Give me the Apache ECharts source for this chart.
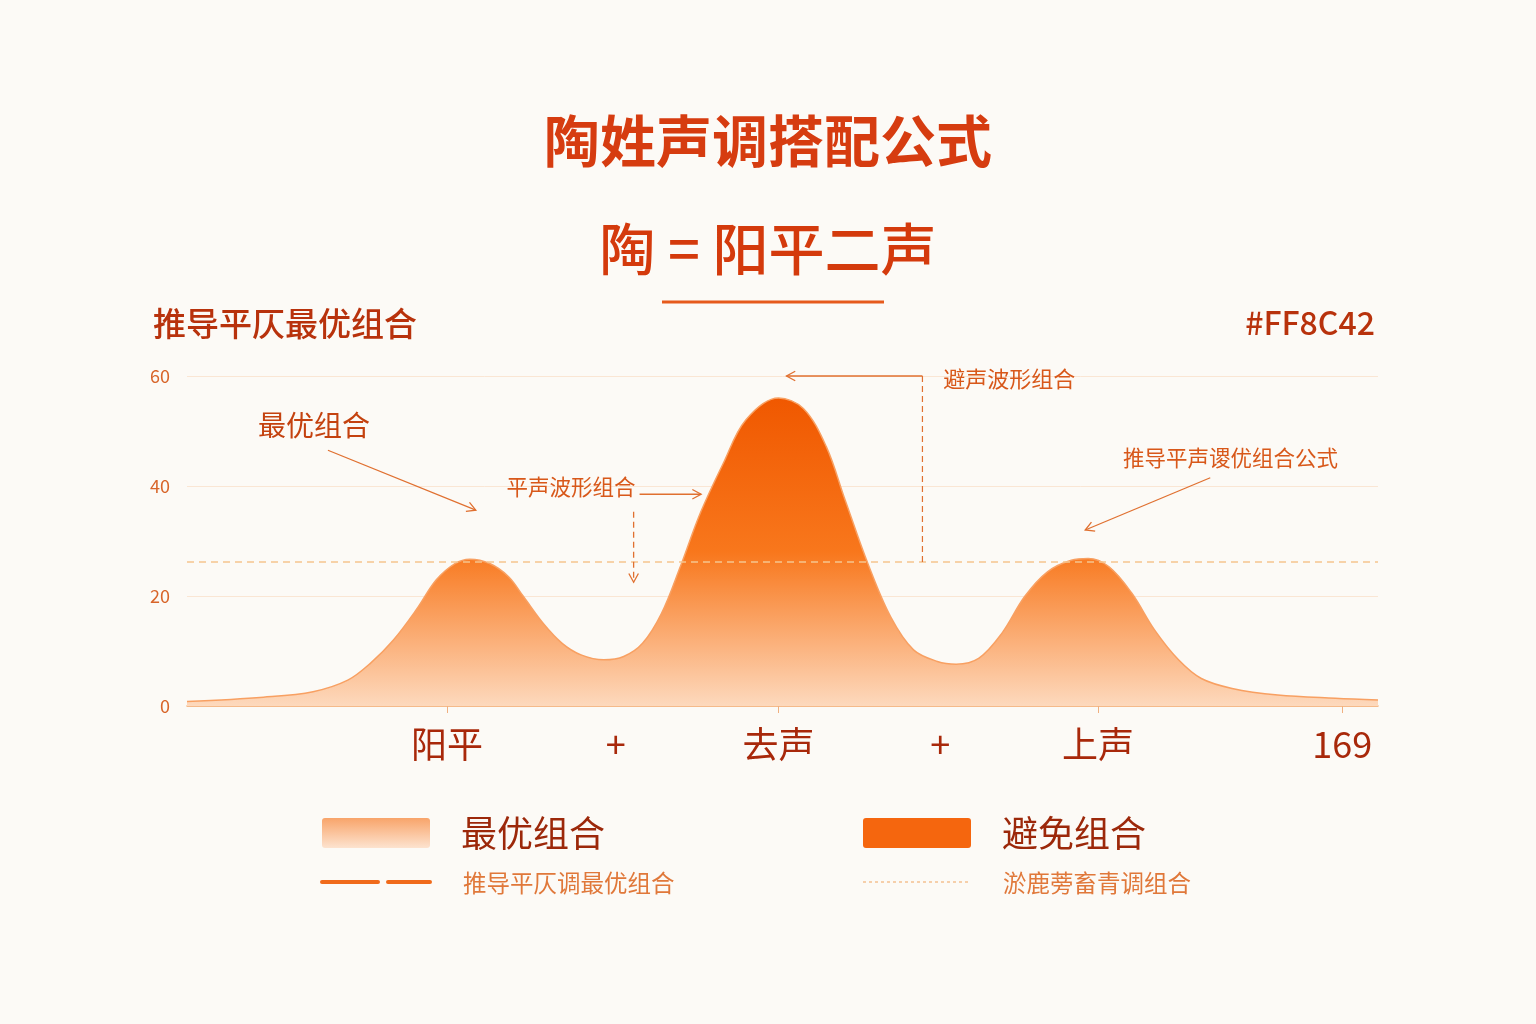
<!DOCTYPE html>
<html>
<head>
<meta charset="utf-8">
<script src="https://cdn.jsdelivr.net/npm/echarts@6/dist/echarts.min.js"></script>
<style>
  html, body { margin: 0; padding: 0; background: #fcfaf6; }
  #chart { width: 1536px; height: 1024px; }
</style>
</head>
<body>
<div id="chart"></div>
<script>
// curve (x in axis units 0..120, y in value units)
var curveX = [0, 7.7, 12.7, 16.2, 18.5, 20.8, 23.1, 25.1, 27, 28.5, 30.5, 32.4, 33.9, 35.9, 37.8, 39.7, 42, 44, 45.9, 47.8, 49.7, 51.7, 54, 56.3, 59.6, 62.1, 64.4, 66.3, 68.6, 70.9, 73.2, 75.6, 77.5, 79.8, 82.1, 84.4, 86.7, 89.1, 90.8, 92.9, 95.2, 97.5, 99.9, 102.2, 105.3, 109.9, 115.7, 120];
var curveY = [0.8, 1.6, 2.6, 4.7, 7.8, 12, 17.5, 22.9, 25.9, 26.7, 25.9, 23.5, 19.9, 15, 11.4, 9.3, 8.4, 9, 11.4, 16.8, 25.3, 35, 44, 52, 56, 54.1, 47.2, 37.5, 25.9, 16.2, 10.2, 8.1, 7.6, 8.7, 13.2, 19.9, 24.4, 26.5, 26.8, 25.3, 20.5, 13.8, 8.4, 5, 3.2, 2, 1.4, 1.1];

var tickValues = [26.2, 59.6, 91.8, 116.4];
var labelValues = [26.2, 43.2, 59.6, 75.9, 91.8, 116.4];
var labelTexts = ['阳平', '+', '去声', '+', '上声', '169'];
var refLevel = 26.2;

var chart = echarts.init(document.getElementById('chart'), null, { renderer: 'canvas' });

var FONT = '"Noto Sans CJK SC", "Noto Sans", sans-serif';

var seriesData = curveX.map(function(x, i) { return [x, curveY[i]]; });

function labelFor(v) {
  for (var i = 0; i < labelValues.length; i++) {
    if (Math.abs(labelValues[i] - v) < 0.01) return labelTexts[i];
  }
  return '';
}

var option = {
  backgroundColor: '#fcfaf6',
  animation: false,
  title: [
    {
      text: '陶姓声调搭配公式',
      left: 'center',
      top: 108,
      textStyle: { fontFamily: FONT, fontSize: 56, fontWeight: 'bold', color: '#d63c10' }
    },
    {
      text: '陶 = 阳平二声',
      left: 'center',
      top: 216,
      textStyle: { fontFamily: FONT, fontSize: 56, fontWeight: 500, color: '#d43a0c' }
    },
    {
      text: '推导平仄最优组合',
      left: 148,
      top: 302,
      textStyle: { fontFamily: FONT, fontSize: 33, fontWeight: 500, color: '#b8320c' }
    },
    {
      text: '#FF8C42',
      right: 156,
      top: 302,
      textStyle: { fontFamily: FONT, fontSize: 32, fontWeight: 500, color: '#b8320c' }
    }
  ],
  grid: { left: 187, right: 158, top: 376, bottom: 318 },
  xAxis: {
    type: 'value',
    min: 0,
    max: 120,
    splitLine: { show: false },
    axisLine: { lineStyle: { color: '#f4ac72', width: 1.5 } },
    axisTick: {
      customValues: tickValues,
      length: 7,
      lineStyle: { color: '#f0b080' }
    },
    axisLabel: {
      customValues: labelValues,
      margin: 20,
      fontFamily: FONT,
      fontSize: 36,
      color: '#a8280a',
      formatter: function(v) { return labelFor(v); }
    }
  },
  yAxis: {
    type: 'value',
    min: 0,
    max: 60,
    interval: 20,
    axisLine: { show: false },
    axisTick: { show: false },
    splitLine: { lineStyle: { color: '#fae6d4', width: 1 } },
    axisLabel: { margin: 17, fontFamily: FONT, fontSize: 18, color: '#d8652a' }
  },
  series: [
    {
      type: 'line',
      data: seriesData,
      smooth: 0.35,
      symbol: 'none',
      lineStyle: { color: '#f8a062', width: 1.5 },
      areaStyle: {
        opacity: 1,
        color: new echarts.graphic.LinearGradient(0, 0, 0, 1, [
          { offset: 0, color: '#f05800' },
          { offset: 0.5, color: '#f8771c' },
          { offset: 1, color: '#fdd9bd' }
        ])
      },
      markLine: {
        silent: true,
        symbol: 'none',
        label: { show: false },
        lineStyle: { color: '#f5c58e', type: [7, 5], width: 1.5 },
        data: [{ yAxis: refLevel }]
      }
    }
  ]
};

chart.setOption(option);

// annotations, anchored in data coordinates
function px(p) { return chart.convertToPixel({ gridIndex: 0 }, p); }

var ANN = '#e07030';

function arrowEls(from, to, dashed) {
  var a = px(from), b = px(to);
  var ang = Math.atan2(b[1] - a[1], b[0] - a[0]);
  var L = 10, spread = 0.5;
  var h1 = [b[0] - L * Math.cos(ang - spread), b[1] - L * Math.sin(ang - spread)];
  var h2 = [b[0] - L * Math.cos(ang + spread), b[1] - L * Math.sin(ang + spread)];
  var st = { stroke: ANN, lineWidth: 1.3, fill: null };
  if (dashed) st.lineDash = [6, 4];
  return [
    { type: 'line', shape: { x1: a[0], y1: a[1], x2: b[0], y2: b[1] }, style: st, z: 50 },
    { type: 'polyline', shape: { points: [h1, b, h2] }, style: { stroke: ANN, lineWidth: 1.3, fill: null }, z: 50 }
  ];
}

function textEl(pos, text, size, color, align) {
  var p = px(pos);
  return {
    type: 'text', x: p[0], y: p[1], z: 50,
    style: {
      text: text, fontFamily: FONT, fontSize: size, fill: color,
      align: align || 'left', verticalAlign: 'middle'
    }
  };
}

var els = [];
els.push(textEl([12.8, 51.1], '最优组合', 28, '#c4420f', 'center'));
els = els.concat(arrowEls([14.2, 46.5], [29.1, 35.6], false));
els.push(textEl([32.2, 39.8], '平声波形组合', 21.5, '#d8581a'));
els = els.concat(arrowEls([45.6, 38.5], [51.8, 38.5], false));
els = els.concat(arrowEls([45.0, 35.3], [45.0, 22.5], true));
els = els.concat(arrowEls([74.1, 60], [60.4, 60], false));
var d1 = px([74.1, 60]), d2 = px([74.1, refLevel]);
els.push({ type: 'line', z: 50, shape: { x1: d1[0], y1: d1[1], x2: d2[0], y2: d2[1] }, style: { stroke: ANN, lineWidth: 1.2, lineDash: [6, 4] } });
els.push(textEl([76.2, 59.5], '避声波形组合', 22, '#d8581a'));
els.push(textEl([94.3, 45.1], '推导平声谡优组合公式', 21.5, '#d8581a'));
els = els.concat(arrowEls([103.1, 41.5], [90.5, 32], false));

// underline below the formula
els.push({ type: 'line', shape: { x1: 662, y1: 302, x2: 884, y2: 302 }, style: { stroke: '#e65a1c', lineWidth: 3 } });

// legend
els.push({
  type: 'rect', shape: { x: 322, y: 818, width: 108, height: 30, r: 3 },
  style: { fill: new echarts.graphic.LinearGradient(0, 0, 0, 1, [
    { offset: 0, color: '#f8a46a' }, { offset: 1, color: '#fde3cf' }
  ]) }
});
els.push({ type: 'text', x: 461, y: 833, style: { text: '最优组合', fontFamily: FONT, fontSize: 36, fill: '#9c280a', verticalAlign: 'middle' } });
els.push({ type: 'rect', shape: { x: 863, y: 818, width: 108, height: 30, r: 3 }, style: { fill: '#f5660e' } });
els.push({ type: 'text', x: 1002, y: 833, style: { text: '避免组合', fontFamily: FONT, fontSize: 36, fill: '#9c280a', verticalAlign: 'middle' } });
els.push({ type: 'line', shape: { x1: 322, y1: 882, x2: 430, y2: 882 }, style: { stroke: '#f06a1a', lineWidth: 4, lineDash: [56, 10], lineCap: 'round' } });
els.push({ type: 'text', x: 463, y: 883, style: { text: '推导平仄调最优组合', fontFamily: FONT, fontSize: 23.5, fill: '#e0783a', verticalAlign: 'middle' } });
els.push({ type: 'line', shape: { x1: 863, y1: 882, x2: 968, y2: 882 }, style: { stroke: '#f2b478', lineWidth: 1.2, lineDash: [3, 3] } });
els.push({ type: 'text', x: 1003, y: 883, style: { text: '淤鹿蒡畜青调组合', fontFamily: FONT, fontSize: 23.5, fill: '#e0783a', verticalAlign: 'middle' } });

chart.setOption({ graphic: { elements: els } });

window.addEventListener('resize', chart.resize);
</script>
</body>
</html>
